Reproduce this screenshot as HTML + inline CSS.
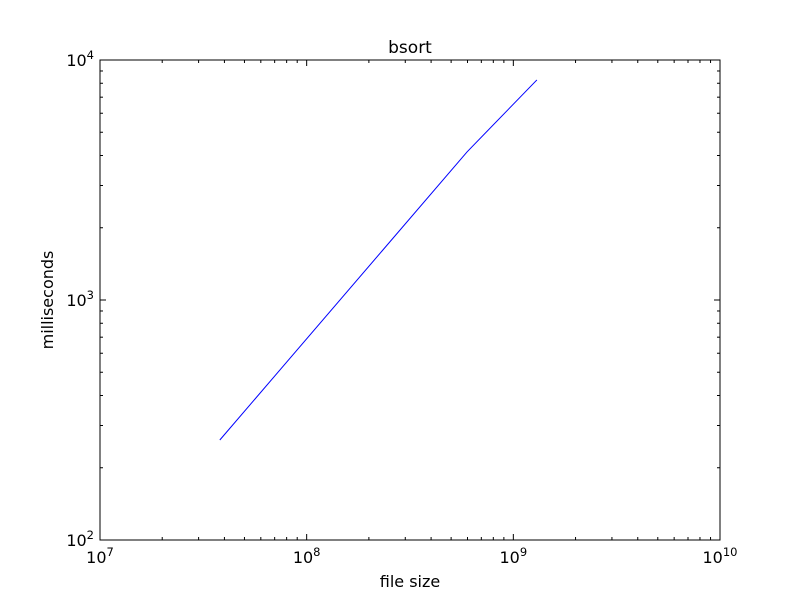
<!DOCTYPE html>
<html><head><meta charset="utf-8"><style>
html,body{margin:0;padding:0;background:#fff;}
svg{display:block;font-family:"DejaVu Sans","Liberation Sans",sans-serif;}
</style></head><body>
<svg id="c" width="800" height="600" viewBox="0 0 800 600">
<rect x="0" y="0" width="800" height="600" fill="#fff"/>
<g id="g"></g>
</svg>
<script>
const xValues = [3.8e7, 5.97e8, 1.3e9];
const yValues = [261, 4140, 8260];
const xTickExps = [7, 8, 9, 10];
const yTickExps = [2, 3, 4];
const L=100,R=720,T=60,B=540;
const xmin=7,xmax=10,ymin=2,ymax=4;
const sx=v=>L+(Math.log10(v)-xmin)/(xmax-xmin)*(R-L);
const sy=v=>B-(Math.log10(v)-ymin)/(ymax-ymin)*(B-T);
const NS="http://www.w3.org/2000/svg";
const g=document.getElementById('g');
function mk(tag,attrs){const e=document.createElementNS(NS,tag);for(const k in attrs)e.setAttribute(k,attrs[k]);g.appendChild(e);return e;}
// series
const pts=xValues.map((x,i)=>sx(x).toFixed(2)+','+sy(yValues[i]).toFixed(2)).join(' ');
const line=mk('polyline',{points:pts,fill:'none',stroke:'#0000ff','stroke-width':1});


// ticks
function tick(x1,y1,x2,y2,name){const t=mk('line',{x1,y1,x2,y2,stroke:'#000','stroke-width':1});

}
for(let e=xmin;e<xmax;e++)for(let m=1;m<10;m++){const x=sx(m*Math.pow(10,e));if(m===1)continue;
tick(x,B,x,B-3,'x-minor-tick');tick(x,T,x,T+3,'x-minor-tick');}
for(let e=ymin;e<ymax;e++)for(let m=2;m<10;m++){const y=sy(m*Math.pow(10,e));
tick(L,y,L+3,y,'y-minor-tick');tick(R,y,R-3,y,'y-minor-tick');}
xTickExps.forEach(e=>{const x=sx(Math.pow(10,e));tick(x,B,x,B-6,'x-major-tick');tick(x,T,x,T+6,'x-major-tick');
const t=mk('text',{x:x,y:B+23,'text-anchor':'middle','font-size':16});


t.innerHTML='10<tspan dy="-7" font-size="11.5">'+e+'</tspan>';});
yTickExps.forEach(e=>{const y=sy(Math.pow(10,e));tick(L,y,L+6,y,'y-major-tick');tick(R,y,R-6,y,'y-major-tick');
const t=mk('text',{x:L-6,y:y+6,'text-anchor':'end','font-size':16});


t.innerHTML='10<tspan dy="-7" font-size="11.5">'+e+'</tspan>';});
const fr=mk('rect',{x:L,y:T,width:R-L,height:B-T,fill:'none',stroke:'#000','stroke-width':1});


const ti=mk('text',{x:410,y:53,'text-anchor':'middle','font-size':17});ti.textContent='bsort';


const xl=mk('text',{x:410,y:587,'text-anchor':'middle','font-size':16});xl.textContent='file size';


const yl=mk('text',{x:53,y:300,'text-anchor':'middle','font-size':16,transform:'rotate(-90 53 300)'});yl.textContent='milliseconds';


</script>
</body></html>
